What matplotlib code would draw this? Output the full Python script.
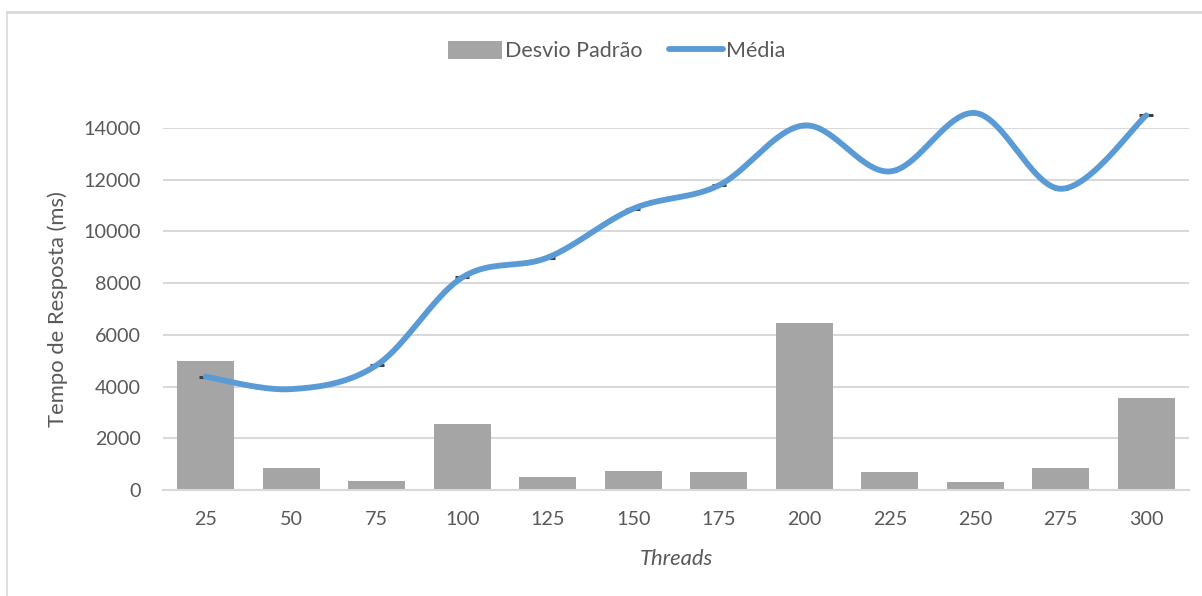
import numpy as np
import matplotlib
matplotlib.use("Agg")
import matplotlib.pyplot as plt
from matplotlib.lines import Line2D
from matplotlib.patches import Patch

threads = [25, 50, 75, 100, 125, 150, 175, 200, 225, 250, 275, 300]
desvio_padrao = [4990, 850, 350, 2550, 500, 735, 700, 6460, 700, 300, 840, 3545]
media = [4380, 3900, 4830, 8220, 8990, 10880, 11780, 14100, 12320, 14580, 11650, 14490]
y_ticks = [0, 2000, 4000, 6000, 8000, 10000, 12000, 14000]

BAR_COLOR = "#A5A5A5"
LINE_COLOR = "#5B9BD5"
GRID_COLOR = "#D9D9D9"
TEXT_COLOR = "#595959"
FONT = ["Lato", "DejaVu Sans"]


def smooth_curve(xs, ys, steps=40):
    """Cubic Bezier smoothing through every point (Catmull-Rom style)."""
    pts = np.column_stack([xs, ys]).astype(float)
    n = len(pts)
    out = []
    t = np.linspace(0, 1, steps)[:, None]
    for i in range(n - 1):
        p0 = pts[max(i - 1, 0)]
        p1 = pts[i]
        p2 = pts[i + 1]
        p3 = pts[min(i + 2, n - 1)]
        c1 = p1 + (p2 - p0) / 6.0
        c2 = p2 - (p3 - p1) / 6.0
        seg = ((1 - t) ** 3) * p1 + 3 * ((1 - t) ** 2) * t * c1 \
            + 3 * (1 - t) * t ** 2 * c2 + t ** 3 * p2
        out.append(seg if i == 0 else seg[1:])
    curve = np.vstack(out)
    return curve[:, 0], curve[:, 1]


fig = plt.figure(figsize=(12.02, 5.96), dpi=100)
ax = fig.add_axes([0.1356, 0.1779, 0.8536, 0.6073])

x = np.arange(len(threads))
ax.bar(x, desvio_padrao, width=0.67, color=BAR_COLOR, zorder=2)

# small point markers under the smoothed line
ax.plot(x, media, linestyle="none", marker="_", markersize=10,
        markeredgewidth=2.2, color="#404040", zorder=3, clip_on=False)
sx, sy = smooth_curve(x, media)
ax.plot(sx, sy, color=LINE_COLOR, linewidth=4.2, solid_capstyle="round",
        zorder=4, clip_on=False)

ax.set_xlim(-0.5, len(threads) - 0.5)
ax.set_ylim(0, 14000)
ax.set_yticks(y_ticks)
ax.set_yticklabels([str(v) for v in y_ticks])
ax.set_xticks(x)
ax.set_xticklabels([str(v) for v in threads])

ax.grid(axis="y", color=GRID_COLOR, linewidth=1.5, zorder=0)
ax.set_axisbelow(True)
for side in ["top", "right", "left"]:
    ax.spines[side].set_visible(False)
ax.spines["bottom"].set_color(GRID_COLOR)
ax.spines["bottom"].set_linewidth(1.5)
ax.tick_params(axis="both", length=0, colors=TEXT_COLOR, labelsize=14.2)
ax.tick_params(axis="y", pad=16)
ax.tick_params(axis="x", pad=15)
for lab in ax.get_xticklabels() + ax.get_yticklabels():
    lab.set_fontfamily(FONT)

ax.set_ylabel("Tempo de Resposta (ms)", fontsize=15.8, color=TEXT_COLOR,
              family=FONT, labelpad=11)
ax.set_xlabel("Threads", fontsize=15.8, color=TEXT_COLOR, family=FONT,
              style="italic", labelpad=15)

handles = [Patch(facecolor=BAR_COLOR, edgecolor="none"),
           Line2D([0], [0], color=LINE_COLOR, linewidth=4.2,
                  solid_capstyle="round")]
fig.legend(handles, ["Desvio Padrão", "Média"], loc="center",
           bbox_to_anchor=(0.513, 0.914), ncol=2, frameon=False,
           prop={"family": FONT, "size": 15.5}, labelcolor=TEXT_COLOR,
           handlelength=2.5, handleheight=0.9, handletextpad=0.15,
           columnspacing=1.25)

# outer chart frame (top and left edges)
fig.add_artist(Line2D([7 / 1202, 1], [1 - 12 / 596, 1 - 12 / 596],
                      transform=fig.transFigure, color=GRID_COLOR, linewidth=2))
fig.add_artist(Line2D([7 / 1202, 7 / 1202], [0, 1 - 12 / 596],
                      transform=fig.transFigure, color=GRID_COLOR, linewidth=1.2))

fig.savefig("out.png", dpi=100)
